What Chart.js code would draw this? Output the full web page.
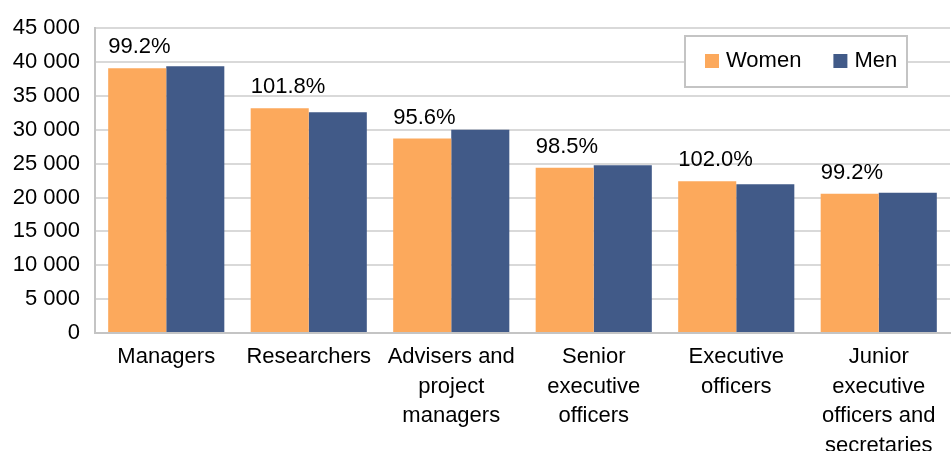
<!DOCTYPE html>
<html>
<head>
<meta charset="utf-8">
<script src="https://cdn.jsdelivr.net/npm/chart.js@4.4.1/dist/chart.umd.min.js"></script>
<style>
  html, body { margin: 0; padding: 0; background: #fff; }
  #wrap { width: 951px; height: 451px; }
</style>
</head>
<body>
<div id="wrap"><canvas id="chart" width="951" height="451"></canvas></div>
<script>
const categories = [
  "Managers",
  "Researchers",
  ["Advisers and", "project", "managers"],
  ["Senior", "executive", "officers"],
  ["Executive", "officers"],
  ["Junior", "executive", "officers and", "secretaries"]
];
const women = [39100, 33200, 28700, 24400, 22400, 20550];
const men = [39400, 32600, 30000, 24750, 21950, 20700];
const ratioLabels = ["99.2%", "101.8%", "95.6%", "98.5%", "102.0%", "99.2%"];

const FONT = "'Liberation Sans', Arial, sans-serif";
const ORANGE = "#fca95c";
const BLUE = "#415a88";

// percentage above each pair, left-aligned with the women bar
const ratioPlugin = {
  id: "ratios",
  afterDatasetsDraw(chart) {
    const ctx = chart.ctx;
    const meta = chart.getDatasetMeta(0);
    ctx.save();
    ctx.font = "22px " + FONT;
    ctx.fillStyle = "#000";
    ctx.textAlign = "left";
    ctx.textBaseline = "middle";
    meta.data.forEach((bar, i) => {
      const left = bar.x - bar.width / 2;
      ctx.fillText(ratioLabels[i], left, bar.y - 21);
    });
    ctx.restore();
  }
};

// boxed legend in the upper right of the plot
const boxLegend = {
  id: "boxLegend",
  afterDraw(chart) {
    const ctx = chart.ctx;
    const x = 685, y = 36, w = 222, h = 51;
    ctx.save();
    ctx.fillStyle = "#fff";
    ctx.fillRect(x, y, w, h);
    ctx.strokeStyle = "#c4c4c4";
    ctx.lineWidth = 2;
    ctx.strokeRect(x, y, w, h);
    ctx.font = "22px " + FONT;
    ctx.textBaseline = "middle";
    let cx = x + 20;
    chart.data.datasets.forEach((ds) => {
      ctx.fillStyle = ds.backgroundColor;
      ctx.fillRect(cx, y + 18, 14, 14);
      ctx.fillStyle = "#000";
      ctx.fillText(ds.label, cx + 21, y + 25);
      cx += 21 + ctx.measureText(ds.label).width + 32;
    });
    ctx.restore();
  }
};

new Chart(document.getElementById("chart"), {
  type: "bar",
  data: {
    labels: categories,
    datasets: [
      { label: "Women", data: women, backgroundColor: ORANGE },
      { label: "Men", data: men, backgroundColor: BLUE }
    ]
  },
  options: {
    responsive: false,
    animation: false,
    layout: { padding: { top: 27, right: 1, left: 0, bottom: 0 } },
    datasets: {
      bar: { categoryPercentage: 0.815, barPercentage: 1.0 }
    },
    plugins: {
      legend: { display: false },
      tooltip: { enabled: false }
    },
    scales: {
      x: {
        grid: { display: false },
        border: { color: "#c4c4c4", width: 2 },
        ticks: {
          color: "#000",
          font: { family: FONT, size: 22, lineHeight: 1.35 },
          maxRotation: 0,
          autoSkip: false,
          padding: 1
        },
        afterFit(scale) { scale.height = 118; }
      },
      y: {
        min: 0,
        max: 45000,
        ticks: {
          stepSize: 5000,
          color: "#000",
          font: { family: FONT, size: 22 },
          padding: 15,
          callback: (v) => String(v).replace(/\B(?=(\d{3})+(?!\d))/g, " ")
        },
        grid: { color: "#d9d9d9", lineWidth: 2, drawTicks: false },
        border: { color: "#c4c4c4", width: 2 },
        afterFit(scale) { scale.width = 95; }
      }
    }
  },
  plugins: [ratioPlugin, boxLegend]
});
</script>
</body>
</html>
